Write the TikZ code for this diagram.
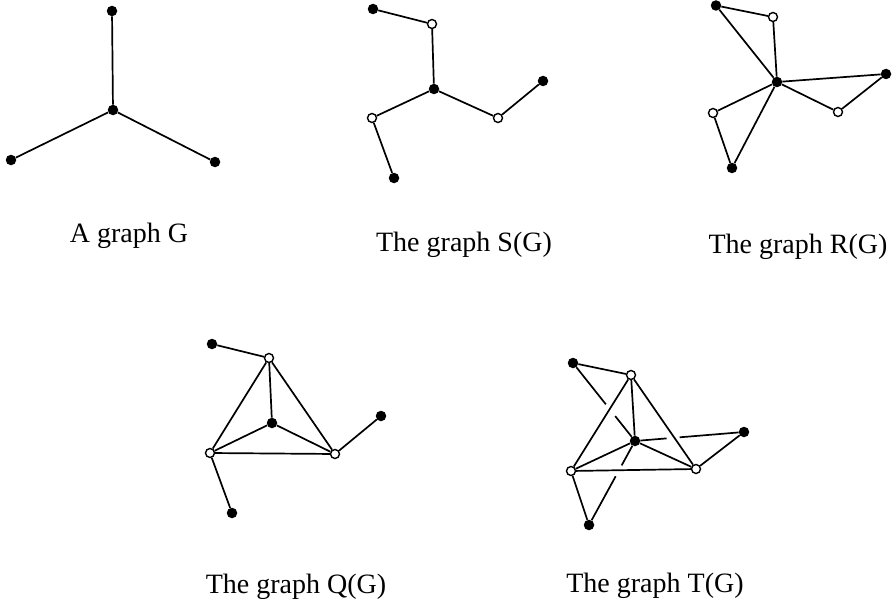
\documentclass[tikz,border=0pt]{standalone}
\usepackage{fontspec}
\setmainfont{Liberation Serif}
\usetikzlibrary{calc}
\begin{document}
\begin{tikzpicture}[x=1pt,y=-1pt,
  fv/.style={circle,fill=black,inner sep=0pt,minimum size=10.5pt},
  ov/.style={circle,draw=black,fill=white,line width=1.4pt,inner sep=0pt,minimum size=9pt},
  edge/.style={line width=1.7pt},
  lbl/.style={anchor=base,inner sep=0pt,font=\fontsize{28}{33}\selectfont}]
\useasboundingbox (0,0) rectangle (892,610);
% ---- G
\node[fv] (g0) at (113,110) {};
\node[fv] (g1) at (112,11) {};
\node[fv] (g2) at (11,160) {};
\node[fv] (g3) at (215,162) {};
\draw[edge] (g0)--(g1) (g0)--(g2) (g0)--(g3);
\node[lbl] (lg) at (129,242) {A graph G};
% ---- S(G)
\node[fv] (s0) at (434,89) {};
\node[ov] (s1a) at (432,24) {};
\node[fv] (s1b) at (373,9) {};
\node[ov] (s2a) at (498,118) {};
\node[fv] (s2b) at (543,81) {};
\node[ov] (s3a) at (372,118) {};
\node[fv] (s3b) at (394,178) {};
\draw[edge] (s0)--(s1a) (s1a)--(s1b) (s0)--(s2a) (s2a)--(s2b) (s0)--(s3a) (s3a)--(s3b);
\node[lbl] (ls) at (464,251) {The graph S(G)};
% ---- R(G)
\node[fv] (r0) at (777,82) {};
\node[ov] (r1a) at (773,17) {};
\node[fv] (r1b) at (716,5.5) {};
\node[ov] (r2a) at (838,112) {};
\node[fv] (r2b) at (886,74) {};
\node[ov] (r3a) at (713,113) {};
\node[fv] (r3b) at (732,168) {};
\draw[edge] (r1b)--(r1a) (r1a)--(r0) (r1b)--(r0)
  (r0)--(r2b) (r2b)--(r2a) (r2a)--(r0)
  (r0)--(r3a) (r3a)--(r3b) (r3b)--(r0);
\node[lbl] (lr) at (798,253) {The graph R(G)};
% ---- Q(G)
\node[fv] (q0) at (272,423) {};
\node[ov] (q1a) at (269,358) {};
\node[fv] (q1b) at (212,344) {};
\node[ov] (q2a) at (335,454) {};
\node[fv] (q2b) at (381,416) {};
\node[ov] (q3a) at (210,453) {};
\node[fv] (q3b) at (232,513) {};
\draw[edge] (q1b)--(q1a) (q1a)--(q0) (q1a)--(q3a) (q1a)--(q2a)
  (q3a)--(q2a) (q0)--(q3a) (q0)--(q2a) (q2a)--(q2b) (q3a)--(q3b);
\node[lbl] (lq) at (296,593) {The graph Q(G)};
% ---- T(G)
\node[fv] (t0) at (635,441) {};
\node[ov] (t1a) at (631,375) {};
\node[fv] (t1b) at (573,363) {};
\node[ov] (t2a) at (696,469) {};
\node[fv] (t2b) at (744,432) {};
\node[ov] (t3a) at (571,471) {};
\node[fv] (t3b) at (589,525) {};
\draw[edge] (t1b)--(t1a) (t1a)--(t0) (t1a)--(t3a) (t1a)--(t2a)
  (t3a)--(t2a) (t0)--(t3a) (t0)--(t2a) (t2a)--(t2b) (t3a)--(t3b);
\draw[edge] (t1b)--($(t1b.center)!0.53!(t0.center)$)
  ($(t1b.center)!0.68!(t0.center)$)--(t0);
\draw[edge] (t0)--($(t0.center)!0.29!(t2b.center)$)
  ($(t0.center)!0.41!(t2b.center)$)--(t2b);
\draw[edge] (t0)--($(t0.center)!0.29!(t3b.center)$)
  ($(t0.center)!0.42!(t3b.center)$)--(t3b);
\node[lbl] (lt) at (655,592) {The graph T(G)};
\end{tikzpicture}
\end{document}
